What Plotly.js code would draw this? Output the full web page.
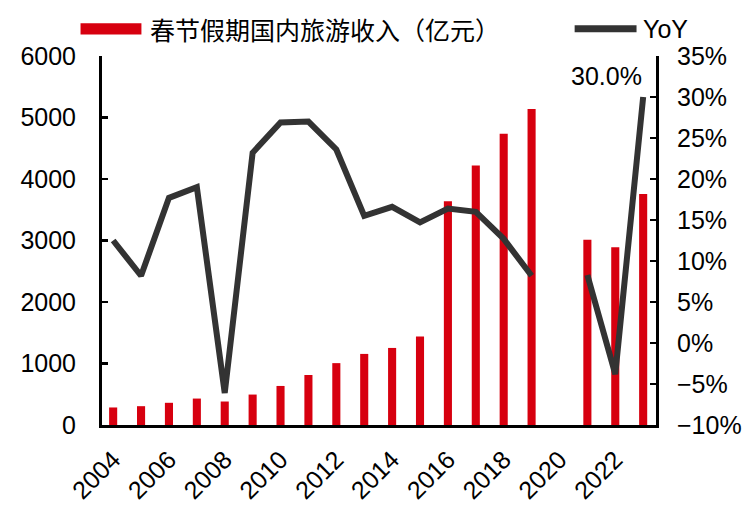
<!DOCTYPE html>
<html>
<head>
<meta charset="utf-8">
<script src="https://cdn.plot.ly/plotly-3.0.1.min.js"></script>
<style>html,body{margin:0;padding:0;background:#fff;}#chart{width:755px;height:511px;}</style>
</head>
<body>
<div id="chart"></div>
<script>
// Data
const years = [2004,2005,2006,2007,2008,2009,2010,2011,2012,2013,2014,2015,2016,2017,2018,2019,2020,2021,2022,2023];
const revenue = [285,306,361,430,382,495,635,813,1006,1156,1253,1440,3640,4219,4734,5139,null,3011,2892,3758];
const yoy = [12.5,8.2,17.7,19.0,-6.1,23.2,26.9,27.0,23.6,15.5,16.6,14.7,16.4,16.0,12.7,8.2,null,8.3,-3.8,30.0];
const xTickVals = [2004,2006,2008,2010,2012,2014,2016,2018,2020,2022];
const xTickText = ['2004','2006','2008','2010','2012','2014','2016','2018','2020','2022'];
const seriesNames = ['春节假期国内旅游收入（亿元）','YoY'];
const lastLabel = '30.0%';

const W = 755, H = 511;
const M = {l:101.5, r:98.5, t:55.5, b:85.5};
const PW = W - M.l - M.r, PH = H - M.t - M.b;
const px = x => (x - M.l) / PW;
const py = y => (H - M.b - y) / PH;

const FONT = 'Liberation Sans, Arial, "Noto Sans CJK SC", sans-serif';
const CJK = '"Noto Sans CJK SC", "Liberation Sans", sans-serif';
const RED = '#D7000F';
const DARK = '#333333';

const traces = [
  {type:'bar', x: years, y: revenue, width: 0.29, marker:{color: RED}, name: seriesNames[0], yaxis:'y', hoverinfo:'skip'},
  {type:'scatter', mode:'lines', x: years, y: yoy, line:{color: DARK, width: 6}, name: seriesNames[1], yaxis:'y2', connectgaps:false, hoverinfo:'skip'}
];

const layout = {
  width: W, height: H,
  margin: {l: M.l, r: M.r, t: M.t, b: M.b, pad: 0},
  paper_bgcolor: '#fff', plot_bgcolor: '#fff',
  font: {family: FONT, size: 25, color: '#000'},
  showlegend: false,
  xaxis: {
    range: [2003.6, 2023.46], tickvals: xTickVals, ticktext: xTickText,
    tickangle: -45, ticks: '', showgrid: false, zeroline: false,
    showline: true, linecolor: '#000', linewidth: 3,
    tickfont: {size: 25}, automargin: false, ticklabelstandoff: 7
  },
  yaxis: {
    range: [0, 6000], dtick: 1000, ticks: 'inside', ticklen: 6, tickwidth: 2.5, tickcolor: '#000',
    showgrid: false, zeroline: false, showline: true, linecolor: '#000', linewidth: 3,
    tickfont: {size: 25}, automargin: false, ticklabelstandoff: 18
  },
  yaxis2: {
    range: [-10, 35], dtick: 5, ticksuffix: '%', overlaying: 'y', side: 'right',
    ticks: 'inside', ticklen: 6, tickwidth: 2.5, tickcolor: '#000',
    showgrid: false, zeroline: false, showline: true, linecolor: '#000', linewidth: 3,
    tickfont: {size: 25}, automargin: false, ticklabelstandoff: 13
  },
  shapes: [
    {type:'rect', xref:'paper', yref:'paper', x0: px(80), x1: px(141), y0: py(34), y1: py(22.7), fillcolor: RED, line:{width:0}},
    {type:'line', xref:'paper', yref:'paper', x0: px(575), x1: px(637), y0: py(28.3), y1: py(28.3), line:{color: DARK, width: 7}}
  ],
  annotations: [
    {xref:'paper', yref:'paper', x: px(148), y: py(28), xanchor:'left', yanchor:'middle', text: seriesNames[0], showarrow:false, font:{size:25, family: CJK}},
    {xref:'paper', yref:'paper', x: px(641), y: py(28), xanchor:'left', yanchor:'middle', text: seriesNames[1], showarrow:false, font:{size:25, family: FONT}},
    {xref:'x', yref:'y2', x: years[years.length-1], y: yoy[yoy.length-1], xanchor:'right', yanchor:'middle', yshift: 21, xshift: 1, text: lastLabel, showarrow:false, font:{size:25, family: FONT}}
  ]
};

Plotly.newPlot('chart', traces, layout, {staticPlot: true, displayModeBar: false});
</script>
</body>
</html>
